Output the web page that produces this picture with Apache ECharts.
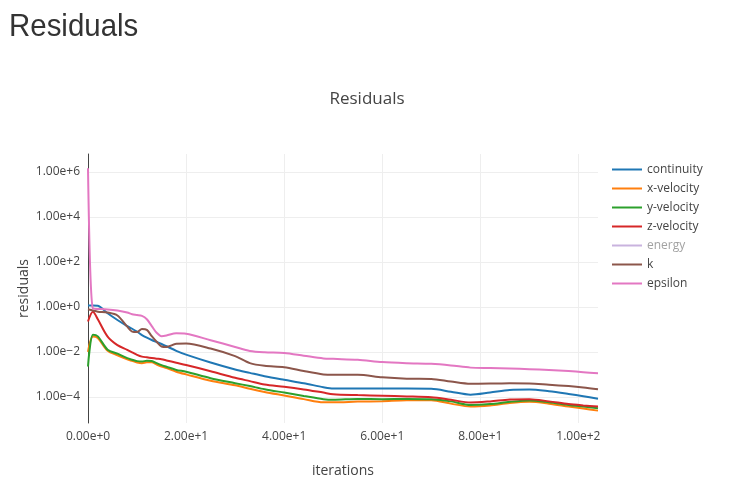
<!DOCTYPE html>
<html><head><meta charset="utf-8">
<script src="https://cdn.jsdelivr.net/npm/echarts@6/dist/echarts.min.js"></script>
<style>html,body{margin:0;padding:0;background:#fff;}#c{width:734px;height:503px;}</style>
</head><body><div id="c"></div>
<script>
const iterations = [0, 1, 2, 4, 6, 8, 9, 10, 11, 12, 13, 14, 15, 16, 18, 20, 25, 30, 33, 36, 40, 44, 48, 50, 55, 60, 65, 70, 74, 78, 82, 86, 90, 94, 98, 101, 104];
const continuity = [1.15, 1.15, 1.12, 0.525, 0.263, 0.141, 0.107, 0.0794, 0.0562, 0.0427, 0.0339, 0.0275, 0.0224, 0.0178, 0.0112, 0.00759, 0.00339, 0.00166, 0.00117, 8.3e-4, 5.75e-4, 4.07e-4, 2.69e-4, 2.34e-4, 2.34e-4, 2.34e-4, 2.34e-4, 2.29e-4, 1.70e-4, 1.26e-4, 1.58e-4, 2.04e-4, 2.14e-4, 1.78e-4, 1.35e-4, 1.07e-4, 8.3e-5];
const xVelocity = [0.01, 4.79e-2, 4.17e-2, 1.12e-2, 7.08e-3, 4.68e-3, 3.98e-3, 3.39e-3, 3.16e-3, 3.47e-3, 3.47e-3, 2.75e-3, 2.24e-3, 1.91e-3, 1.32e-3, 1.0e-3, 5.25e-4, 3.31e-4, 2.29e-4, 1.66e-4, 1.15e-4, 7.94e-5, 5.75e-5, 5.75e-5, 6.17e-5, 6.46e-5, 7.08e-5, 7.08e-5, 5.01e-5, 3.72e-5, 4.17e-5, 5.37e-5, 6.03e-5, 5.01e-5, 3.72e-5, 3.02e-5, 2.45e-5];
const yVelocity = [2.24e-3, 5.75e-2, 4.9e-2, 1.26e-2, 8.32e-3, 5.25e-3, 4.47e-3, 3.89e-3, 3.72e-3, 4.07e-3, 3.98e-3, 3.16e-3, 2.57e-3, 2.19e-3, 1.58e-3, 1.32e-3, 6.76e-4, 4.07e-4, 3.02e-4, 2.19e-4, 1.55e-4, 1.10e-4, 7.94e-5, 7.41e-5, 8.13e-5, 7.94e-5, 8.13e-5, 7.76e-5, 6.31e-5, 4.37e-5, 4.79e-5, 6.03e-5, 6.92e-5, 5.75e-5, 4.37e-5, 3.72e-5, 3.16e-5];
const zVelocity = [0.224, 0.603, 0.282, 4.79e-2, 2.0e-2, 1.23e-2, 9.55e-3, 7.41e-3, 6.17e-3, 5.75e-3, 5.37e-3, 5.01e-3, 4.68e-3, 4.17e-3, 3.31e-3, 2.63e-3, 1.38e-3, 7.08e-4, 5.01e-4, 3.55e-4, 2.82e-4, 2.14e-4, 1.55e-4, 1.32e-4, 1.20e-4, 1.12e-4, 1.05e-4, 9.55e-5, 7.41e-5, 5.62e-5, 6.31e-5, 7.59e-5, 7.94e-5, 6.31e-5, 4.79e-5, 4.17e-5, 3.72e-5];
const energy = [];
const k = [0.794, 0.692, 0.617, 0.562, 0.417, 0.132, 0.0794, 0.0759, 0.105, 0.0955, 0.0501, 0.0282, 0.0174, 0.0166, 0.0229, 0.0234, 0.0141, 6.46e-3, 3.16e-3, 2.40e-3, 2.09e-3, 1.41e-3, 1.0e-3, 9.55e-4, 9.55e-4, 7.41e-4, 6.46e-4, 6.31e-4, 4.79e-4, 3.8e-4, 3.89e-4, 4.07e-4, 3.98e-4, 3.47e-4, 3.02e-4, 2.63e-4, 2.19e-4];
const epsilon = [1.45e6, 0.832, 0.813, 0.776, 0.692, 0.562, 0.468, 0.437, 0.398, 0.282, 0.141, 0.0708, 0.0501, 0.0537, 0.0676, 0.0646, 0.0331, 0.0166, 0.011, 9.55e-3, 8.91e-3, 6.76e-3, 5.13e-3, 4.9e-3, 4.47e-3, 3.55e-3, 3.16e-3, 2.95e-3, 2.51e-3, 2.0e-3, 1.91e-3, 1.82e-3, 1.70e-3, 1.58e-3, 1.41e-3, 1.26e-3, 1.12e-3];
const seriesNames = ['continuity', 'x-velocity', 'y-velocity', 'z-velocity', 'energy', 'k', 'epsilon'];
const seriesValues = [continuity, xVelocity, yVelocity, zVelocity, energy, k, epsilon];
const xTickLabels = ['0.00e+0', '2.00e+1', '4.00e+1', '6.00e+1', '8.00e+1', '1.00e+2'];
const yTickLabels = ['1.00e\u22124', '1.00e\u22122', '1.00e+0', '1.00e+2', '1.00e+4', '1.00e+6'];

const colors = ['#1f77b4', '#ff7f0e', '#2ca02c', '#d62728', '#9467bd', '#8c564b', '#e377c2'];
const FONT = '"Open Sans", verdana, arial, sans-serif';
const chart = echarts.init(document.getElementById('c'), null, {renderer: 'canvas'});
chart.setOption({
  animation: false,
  color: colors,
  graphic: [{
    type: 'text', x: 9, y: 11, scaleX: 0.92, silent: true,
    style: {text: 'Residuals', font: '32px "Liberation Sans", Arial, sans-serif', fill: '#333', verticalAlign: 'top', align: 'left'}
  }],
  title: [
    {text: 'Residuals', left: 'center', top: 91, padding: 0,
     textStyle: {fontSize: 17, fontWeight: 'normal', color: '#444', fontFamily: FONT}}
  ],
  legend: {
    orient: 'vertical', left: 612, top: 160, itemGap: 0, itemWidth: 30, itemHeight: 2, itemTextGap: 6,
    icon: 'rect', padding: 0,
    data: seriesNames,
    selected: {energy: false},
    inactiveColor: '#c9b3de',
    formatter: name => name === 'energy' ? '{off|' + name + '}' : name,
    textStyle: {fontSize: 12, color: '#444', fontFamily: FONT, lineHeight: 19,
      rich: {off: {color: '#a2a2a2', fontSize: 12, fontFamily: FONT, lineHeight: 19}}}
  },
  grid: {left: 88, right: 136, top: 154, bottom: 80, containLabel: false},
  xAxis: {
    type: 'value', min: 0, max: 104, interval: 20,
    name: 'iterations', nameLocation: 'middle', nameGap: 41, nameMoveOverlap: false,
    nameTextStyle: {fontSize: 14, color: '#444', fontFamily: FONT},
    axisLine: {show: false}, axisTick: {show: false},
    splitLine: {show: true, showMinLine: false, showMaxLine: false, lineStyle: {color: '#eee', width: 1}},
    axisLabel: {showMaxLabel: false, color: '#444', fontSize: 12, fontFamily: FONT, margin: 8,
      formatter: v => xTickLabels[Math.round(v / 20)] || ''}
  },
  yAxis: {
    type: 'log', logBase: 100, min: 6.9e-6, max: 6.3e6, splitNumber: 6,
    name: 'residuals', nameLocation: 'middle', nameGap: 57, nameMoveOverlap: false,
    nameTextStyle: {fontSize: 14, color: '#444', fontFamily: FONT},
    axisLine: {show: true, lineStyle: {color: '#444', width: 1}}, axisTick: {show: false},
    splitLine: {show: true, showMinLine: false, showMaxLine: false, lineStyle: {color: '#eee', width: 1}},
    axisLabel: {showMinLabel: false, showMaxLabel: false, color: '#444', fontSize: 12, fontFamily: FONT, margin: 8,
      formatter: v => yTickLabels[Math.round(Math.log10(v) / 2) + 2] || ''}
  },
  series: seriesNames.map((name, i) => ({
    name: name, type: 'line', showSymbol: false, symbol: 'none', smooth: 0.3,
    lineStyle: {width: 2, color: colors[i]}, itemStyle: {color: colors[i]},
    data: iterations.slice(0, seriesValues[i].length).map((x, j) => [x, seriesValues[i][j]])
  }))
});
</script></body></html>
